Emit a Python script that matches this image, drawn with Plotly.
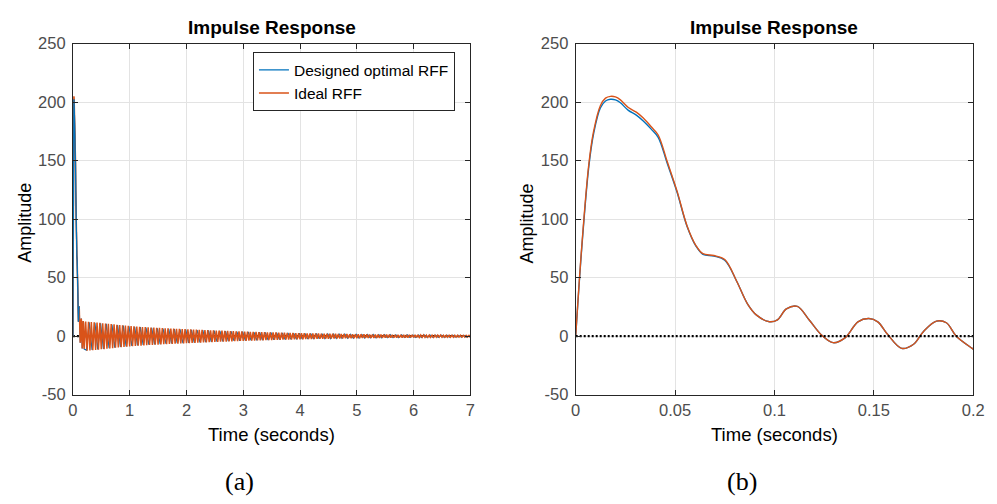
import numpy as np
import plotly.graph_objects as go

# ---------------- data ----------------
# early part of the impulse response (0 .. 0.2 s)
t_early = [0, 0.003, 0.0066, 0.009, 0.0124, 0.015, 0.0175, 0.02, 0.0225, 0.0265,
           0.0305, 0.034, 0.038, 0.0415, 0.046, 0.051, 0.056, 0.0605, 0.064, 0.0695,
           0.075, 0.081, 0.0865, 0.091, 0.0975, 0.1015, 0.106, 0.1115, 0.1175, 0.124,
           0.1295, 0.1355, 0.142, 0.1475, 0.152, 0.157, 0.164, 0.170, 0.175, 0.1815,
           0.1865, 0.1915, 0.1995, 0.2]
designed_early = [0, 74, 145, 173, 195, 201, 202.5, 202, 199.5, 193,
                  189, 184, 177, 170, 148, 123, 94, 77, 70, 68.5,
                  65, 47, 27.5, 18, 12.4, 14, 23.3, 25.5, 13.8, 0.5,
                  -5.5, -1.4, 12.3, 15.1, 12.3, 1.4, -10.4, -6.9, 4.1, 12.9,
                  11.5, 0, -10.4, -11]
ideal_early = [0, 75.5, 147, 175, 197, 203.5, 205, 204.5, 202, 195.5,
               191.5, 186.5, 179, 172, 149.5, 124, 94.5, 77.5, 70.5, 69,
               65.5, 47, 27.5, 18, 12.4, 14, 23.3, 25.5, 13.8, 0.5,
               -5.5, -1.4, 12.3, 15.1, 12.3, 1.4, -10.4, -6.9, 4.1, 12.9,
               11.5, 0, -10.4, -11]

# long-time oscillatory tail (0.2 .. 7 s), peak values
t_tail_ideal = np.round(np.arange(0.225, 7.0001, 0.025), 4)
t_tail_designed = np.round(np.arange(0.2375, 6.9876, 0.05), 4)
ideal_tail = [
    12.5, -12.4, 12.3, -12.2, 12.1, -12.0, 11.9, -11.8, 11.6, -11.5, 11.4, -11.2, 11.1, -11.0, 10.8, -10.7, 10.6, -10.4, 10.3, -10.2,
    10.1, -9.9, 9.8, -9.7, 9.6, -9.4, 9.3, -9.2, 9.1, -8.9, 8.8, -8.7, 8.6, -8.5, 8.4, -8.3, 8.2, -8.1, 8.05, -8.0,
    7.9, -7.85, 7.8, -7.7, 7.6, -7.55, 7.5, -7.4, 7.35, -7.3, 7.2, -7.15, 7.1, -7.0, 6.95, -6.9, 6.85, -6.8, 6.75, -6.7,
    6.6, -6.55, 6.5, -6.45, 6.4, -6.35, 6.3, -6.25, 6.2, -6.15, 6.1, -6.0, 5.95, -5.9, 5.85, -5.8, 5.75, -5.7, 5.65, -5.6,
    5.5, -5.45, 5.4, -5.35, 5.3, -5.25, 5.2, -5.15, 5.1, -5.05, 5.0, -4.95, 4.9, -4.85, 4.8, -4.75, 4.7, -4.65, 4.62, -4.6,
    4.5, -4.46, 4.42, -4.38, 4.34, -4.3, 4.25, -4.2, 4.15, -4.1, 4.05, -4.0, 3.96, -3.92, 3.88, -3.84, 3.8, -3.76, 3.72, -3.7,
    3.65, -3.62, 3.58, -3.55, 3.52, -3.48, 3.45, -3.42, 3.38, -3.35, 3.32, -3.28, 3.25, -3.22, 3.18, -3.15, 3.12, -3.08, 3.05, -3.0,
    2.95, -2.92, 2.89, -2.86, 2.83, -2.8, 2.77, -2.74, 2.71, -2.68, 2.65, -2.62, 2.59, -2.56, 2.53, -2.5, 2.47, -2.45, 2.42, -2.4,
    2.35, -2.33, 2.31, -2.29, 2.27, -2.25, 2.23, -2.21, 2.19, -2.17, 2.15, -2.13, 2.11, -2.09, 2.07, -2.05, 2.03, -2.01, 1.98, -1.95,
    1.9, -1.88, 1.86, -1.84, 1.82, -1.8, 1.78, -1.76, 1.74, -1.72, 1.7, -1.68, 1.66, -1.64, 1.62, -1.6, 1.59, -1.57, 1.56, -1.55,
    1.52, -1.5, 1.49, -1.47, 1.46, -1.44, 1.43, -1.41, 1.4, -1.38, 1.37, -1.35, 1.34, -1.32, 1.31, -1.3, 1.29, -1.28, 1.26, -1.25,
    1.22, -1.21, 1.2, -1.18, 1.17, -1.16, 1.15, -1.13, 1.12, -1.11, 1.1, -1.08, 1.07, -1.06, 1.05, -1.04, 1.03, -1.02, 1.01, -1.0,
    0.98, -0.97, 0.96, -0.95, 0.94, -0.93, 0.92, -0.91, 0.9, -0.89, 0.88, -0.87, 0.86, -0.85, 0.84, -0.83, 0.82, -0.81, 0.8, -0.8,
    0.79, -0.78, 0.78, -0.77, 0.76, -0.75, 0.74, -0.73, 0.72, -0.72, 0.71, -0.7]
designed_tail = [
    -11.8, 11.9, -11.7, 11.5, -11.3, 11.1, -10.8, 10.5, -10.2, 10.0,
    -9.7, 9.5, -9.2, 9.0, -8.7, 8.5, -8.3, 8.1, -7.9, 7.7,
    -7.5, 7.4, -7.2, 7.1, -6.9, 6.8, -6.7, 6.5, -6.4, 6.3,
    -6.2, 6.1, -6.0, 5.9, -5.8, 5.7, -5.6, 5.5, -5.4, 5.3,
    -5.2, 5.1, -5.0, 4.9, -4.8, 4.7, -4.6, 4.5, -4.4, 4.3,
    -4.2, 4.1, -4.0, 3.9, -3.85, 3.8, -3.7, 3.65, -3.55, 3.5,
    -3.45, 3.4, -3.3, 3.25, -3.2, 3.1, -3.05, 3.0, -2.9, 2.85,
    -2.8, 2.75, -2.7, 2.6, -2.55, 2.5, -2.45, 2.4, -2.35, 2.3,
    -2.25, 2.2, -2.15, 2.1, -2.05, 2.0, -1.95, 1.9, -1.86, 1.82,
    -1.78, 1.75, -1.72, 1.68, -1.65, 1.62, -1.58, 1.55, -1.52, 1.5,
    -1.46, 1.44, -1.4, 1.38, -1.35, 1.32, -1.3, 1.27, -1.24, 1.22,
    -1.19, 1.16, -1.14, 1.11, -1.09, 1.06, -1.04, 1.01, -0.99, 0.97,
    -0.95, 0.93, -0.91, 0.89, -0.87, 0.85, -0.83, 0.81, -0.79, 0.78,
    -0.76, 0.75, -0.73, 0.71, -0.7, 0.69]

xticks_a = [0, 1, 2, 3, 4, 5, 6, 7]
xticks_b = [0, 0.05, 0.1, 0.15, 0.2]
xticklabels_b = ["0", "0.05", "0.1", "0.15", "0.2"]
yticks = [-50, 0, 50, 100, 150, 200, 250]
yticklabels = ["-50", "0", "50", "100", "150", "200", "250"]

series_names = ["Designed optimal RFF", "Ideal RFF"]
title_text = "Impulse Response"

# ---------------- styling ----------------
BLUE = "#0072BD"
ORANGE = "#D95319"
SANS = "Liberation Sans, Arial, sans-serif"
SERIF = "Liberation Serif, Times New Roman, serif"

t_full_designed = list(t_early) + list(t_tail_designed)
y_full_designed = designed_early + designed_tail
t_full_ideal = list(t_early) + list(t_tail_ideal)
y_full_ideal = ideal_early + ideal_tail

fig = go.Figure()

# panel (a)
fig.add_trace(go.Scatter(x=[0, 7], y=[0, 0], mode="lines", xaxis="x", yaxis="y",
                         line=dict(color="black", width=2.2, dash="2px,2px"),
                         showlegend=False, hoverinfo="skip"))
fig.add_trace(go.Scatter(x=t_full_designed, y=y_full_designed, mode="lines",
                         xaxis="x", yaxis="y", name=series_names[0],
                         line=dict(color=BLUE, width=1.2)))
fig.add_trace(go.Scatter(x=t_full_ideal, y=y_full_ideal, mode="lines",
                         xaxis="x", yaxis="y", name=series_names[1],
                         line=dict(color=ORANGE, width=1.5)))
# designed response's initial transient is visible on top in the reference
fig.add_trace(go.Scatter(x=t_early[:28], y=designed_early[:28], mode="lines",
                         xaxis="x", yaxis="y", showlegend=False, hoverinfo="skip",
                         line=dict(color=BLUE, width=1.2)))

# panel (b)
fig.add_trace(go.Scatter(x=t_early, y=designed_early, mode="lines",
                         xaxis="x2", yaxis="y2", showlegend=False,
                         line=dict(color=BLUE, width=1.4, shape="spline")))
fig.add_trace(go.Scatter(x=t_early, y=ideal_early, mode="lines",
                         xaxis="x2", yaxis="y2", showlegend=False,
                         line=dict(color=ORANGE, width=1.4, shape="spline")))
fig.add_trace(go.Scatter(x=[0, 0.2], y=[0, 0], mode="lines", xaxis="x2", yaxis="y2",
                         line=dict(color="black", width=2.2, dash="2px,2px"),
                         showlegend=False, hoverinfo="skip"))

W, H = 997, 504
xa_dom = [69 / W, 473 / W]
xb_dom = [580 / W, 984 / W]
y_dom = [1 - 400 / H, 1 - 36 / H]

axis_common = dict(showline=True, linecolor="#262626", linewidth=1, mirror="ticks",
                   ticks="inside", ticklen=5, tickcolor="#262626",
                   showgrid=True, gridcolor="#e3e3e3", gridwidth=1, zeroline=False,
                   tickfont=dict(family=SANS, size=16.5, color="#4d4d4d"))

fig.update_layout(
    width=W, height=H, margin=dict(l=0, r=0, t=0, b=0),
    paper_bgcolor="white", plot_bgcolor="white",
    xaxis=dict(domain=xa_dom, anchor="y", range=[0, 7], tickvals=xticks_a, **axis_common),
    yaxis=dict(domain=y_dom, anchor="x", range=[-50, 250], tickvals=yticks,
               ticktext=yticklabels, ticklabelstandoff=3, **axis_common),
    xaxis2=dict(domain=xb_dom, anchor="y2", range=[0, 0.2], tickvals=xticks_b,
                ticktext=xticklabels_b, **axis_common),
    yaxis2=dict(domain=y_dom, anchor="x2", range=[-50, 250], tickvals=yticks,
                ticktext=yticklabels, ticklabelstandoff=3, **axis_common),
    showlegend=True,
    legend=dict(x=252 / W, y=1 - 45 / H, xanchor="left", yanchor="top",
                bgcolor="white", bordercolor="#262626", borderwidth=1,
                font=dict(family=SANS, size=15.5, color="black"),
                tracegroupgap=0, itemwidth=30),
)

ann = []
for cx, cap in [((69 + 473) / 2, "(a)"), ((580 + 984) / 2, "(b)")]:
    ann.append(dict(x=cx / W, y=1 - 19 / H, xref="paper", yref="paper",
                    text="<b>" + title_text + "</b>", showarrow=False,
                    font=dict(family=SANS, size=19, color="black"),
                    xanchor="center", yanchor="middle"))
    ann.append(dict(x=cx / W, y=1 - 441 / H, xref="paper", yref="paper",
                    text="Time (seconds)", showarrow=False,
                    font=dict(family=SANS, size=18.5, color="black"),
                    xanchor="center", yanchor="middle"))
    ann.append(dict(x=cx / W - 33 / W, y=1 - 490 / H, xref="paper", yref="paper",
                    text=cap, showarrow=False,
                    font=dict(family=SERIF, size=26, color="black"),
                    xanchor="center", yanchor="middle"))
for ax_x in [20, 531]:
    ann.append(dict(x=ax_x / W, y=1 - 222 / H, xref="paper", yref="paper",
                    text="Amplitude", showarrow=False, textangle=-90,
                    font=dict(family=SANS, size=18, color="black"),
                    xanchor="center", yanchor="middle"))
fig.update_layout(annotations=ann)

fig.write_html("out.html")
